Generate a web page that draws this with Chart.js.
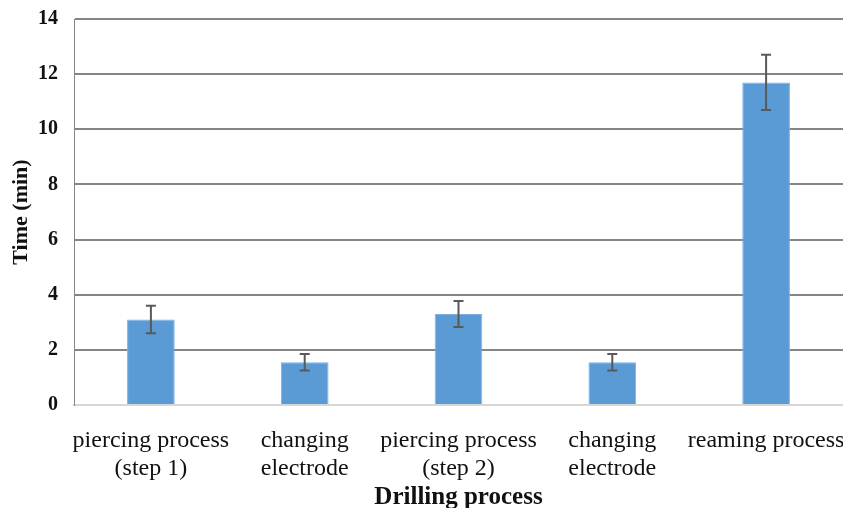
<!DOCTYPE html>
<html>
<head>
<meta charset="utf-8">
<script src="https://cdn.jsdelivr.net/npm/chart.js@4"></script>
<style>
html,body{margin:0;padding:0;background:#fff;}
#wrap{width:843px;height:508px;position:relative;}
</style>
</head>
<body>
<div id="wrap"><canvas id="c" width="843" height="508"></canvas></div>
<script>
const categories = [
  ["piercing process", "(step 1)"],
  ["changing", "electrode"],
  ["piercing process", "(step 2)"],
  ["changing", "electrode"],
  ["reaming process"]
];
const timeValues = [3.1, 1.55, 3.3, 1.55, 11.7];
const timeErrors = [0.5, 0.3, 0.47, 0.3, 1.0];
const yTicks = [0, 2, 4, 6, 8, 10, 12, 14];

const errorBarPlugin = {
  id: 'errorBars',
  afterDatasetsDraw(chart) {
    const ctx = chart.ctx;
    const meta = chart.getDatasetMeta(0);
    const y = chart.scales.y;
    ctx.save();
    ctx.strokeStyle = '#595959';
    ctx.lineWidth = 2;
    meta.data.forEach((bar, i) => {
      const v = timeValues[i], e = timeErrors[i];
      const yTop = y.getPixelForValue(v + e);
      const yBot = y.getPixelForValue(v - e);
      const x = bar.x;
      const cap = 5;
      ctx.beginPath();
      ctx.moveTo(x, yTop); ctx.lineTo(x, yBot);
      ctx.moveTo(x - cap, yTop); ctx.lineTo(x + cap, yTop);
      ctx.moveTo(x - cap, yBot); ctx.lineTo(x + cap, yBot);
      ctx.stroke();
    });
    ctx.restore();
  }
};

new Chart(document.getElementById('c'), {
  type: 'bar',
  data: {
    labels: categories,
    datasets: [{
      data: timeValues,
      backgroundColor: '#5B9BD5',
      borderColor: '#7DB0E0',
      borderWidth: 1,
      categoryPercentage: 1,
      barPercentage: 0.31
    }]
  },
  options: {
    responsive: false,
    animation: false,
    devicePixelRatio: 1,
    layout: { padding: { top: 19, right: 0, left: 0, bottom: 0 } },
    plugins: { legend: { display: false }, tooltip: { enabled: false } },
    scales: {
      x: {
        afterFit(s) { s.height = 103; s.paddingLeft = 0; s.paddingRight = 0; },
        grid: { display: false },
        border: { color: '#d6d6d6', width: 2 },
        ticks: {
          color: '#111',
          font: { family: 'Liberation Serif', size: 24, lineHeight: 1.15 },
          padding: 14,
          maxRotation: 0,
          autoSkip: false
        },
        title: {
          display: true,
          text: 'Drilling process',
          color: '#111',
          font: { family: 'Liberation Serif', size: 25, weight: 'bold', lineHeight: 0.8 },
          padding: { top: 0, bottom: 0 }
        }
      },
      y: {
        min: 0, max: 14,
        afterFit(s) { s.width = 74; s.paddingTop = 0; s.paddingBottom = 0; },
        afterBuildTicks(s) { s.ticks = yTicks.map(v => ({ value: v })); },
        grid: { color: '#858585', lineWidth: 2, drawTicks: false },
        border: { color: '#858585', width: 1 },
        ticks: {
          color: '#111',
          font: { family: 'Liberation Serif', size: 20, weight: 'bold' },
          padding: 16
        },
        title: {
          display: true,
          text: 'Time (min)',
          color: '#111',
          font: { family: 'Liberation Serif', size: 22, weight: 'bold' },
          padding: { top: 8, bottom: 0 }
        }
      }
    }
  },
  plugins: [errorBarPlugin]
});
</script>
</body>
</html>
